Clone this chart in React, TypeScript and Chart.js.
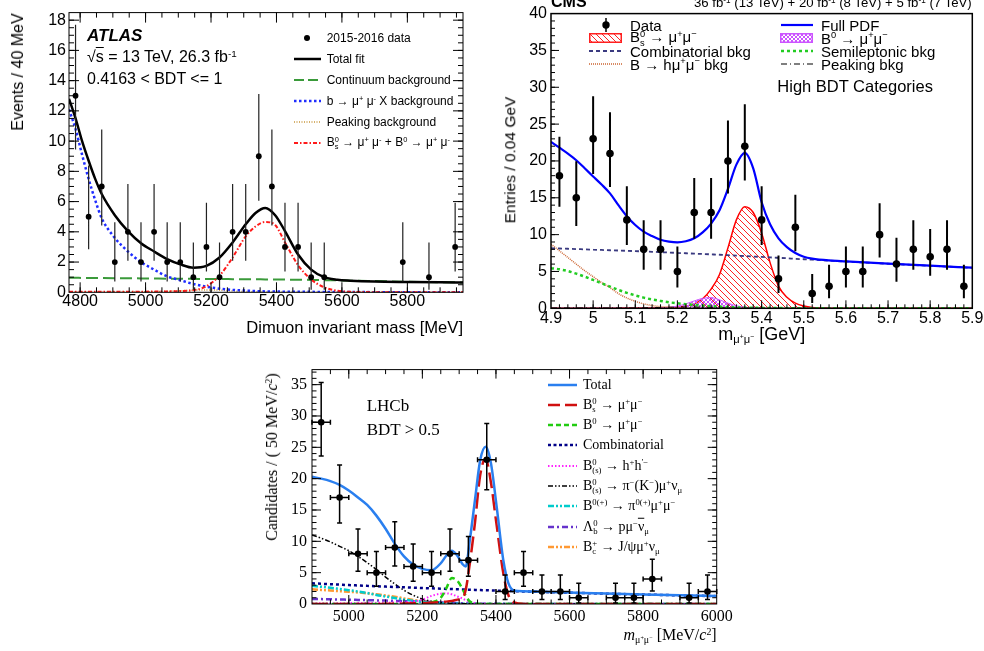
import React, { useEffect, useRef } from 'react';
import { Chart, registerables } from 'chart.js';

Chart.register(...registerables);

// ================= ATLAS panel data =================
const atlasBinX = [4786, 4826, 4866, 4906, 4946, 4986, 5026, 5066, 5106, 5146, 5186, 5226, 5266, 5306, 5346, 5386, 5426, 5466, 5506, 5546, 5786, 5866, 5946];
const atlasCounts = [13, 5, 7, 2, 4, 2, 4, 2, 2, 1, 3, 1, 4, 4, 9, 7, 3, 3, 1, 1, 2, 1, 3];
const atlasErrLo = [9.44, 2.84, 4.42, 0.71, 2.09, 0.71, 2.09, 0.71, 0.71, 0.17, 1.37, 0.17, 2.09, 2.09, 6.06, 4.42, 1.37, 1.37, 0.17, 0.17, 0.71, 0.17, 1.37];
const atlasErrHi = [17.7, 8.38, 10.77, 4.64, 7.16, 4.64, 7.16, 4.64, 4.64, 3.3, 5.92, 3.3, 7.16, 7.16, 13.11, 10.77, 5.92, 5.92, 3.3, 3.3, 4.64, 3.3, 5.92];
const atlasCurveX = [4766, 4786, 4806, 4826, 4846, 4866, 4906, 4946, 4986, 5026, 5066, 5106, 5146, 5186, 5226, 5266, 5306, 5336, 5366, 5396, 5426, 5466, 5506, 5546, 5586, 5626, 5700, 5800, 5900, 5970];
const atlasTotal = [12.8, 11.5, 10.0, 8.7, 7.5, 6.5, 5.1, 4.05, 3.25, 2.7, 2.2, 1.85, 1.63, 1.75, 2.3, 3.3, 4.5, 5.25, 5.58, 5.1, 4.05, 2.5, 1.5, 1.0, 0.83, 0.77, 0.71, 0.68, 0.66, 0.65];
const atlasBmumuX = [12.1, 10.8, 9.1, 7.5, 6.1, 4.9, 3.6, 2.7, 2.0, 1.5, 1.05, 0.8, 0.55, 0.37, 0.24, 0.16, 0.11, 0.08, 0.06, 0.05, 0.04, 0.03, 0.03, 0.02, 0.02, 0.02, 0.01, 0.01, 0.01, 0.01];
const atlasContinuum = [0.96, 0.96, 0.95, 0.95, 0.95, 0.94, 0.93, 0.93, 0.92, 0.91, 0.9, 0.9, 0.89, 0.88, 0.88, 0.87, 0.86, 0.86, 0.85, 0.85, 0.84, 0.83, 0.82, 0.8, 0.79, 0.77, 0.74, 0.7, 0.67, 0.65];
const atlasSignal = [0.03, 0.03, 0.03, 0.03, 0.03, 0.03, 0.03, 0.04, 0.04, 0.05, 0.06, 0.08, 0.14, 0.4, 1.1, 2.3, 3.7, 4.35, 4.65, 4.45, 3.3, 1.8, 0.85, 0.33, 0.1, 0.03, 0.01, 0, 0, 0];
const atlasPeaking = [0.01, 0.01, 0.01, 0.01, 0.01, 0.02, 0.02, 0.02, 0.03, 0.04, 0.07, 0.1, 0.14, 0.16, 0.14, 0.09, 0.05, 0.03, 0.02, 0.02, 0.01, 0.01, 0.01, 0.01, 0, 0, 0, 0, 0, 0];
const atlasXTicks = [4800, 5000, 5200, 5400, 5600, 5800];
const atlasYTicks = [0, 2, 4, 6, 8, 10, 12, 14, 16, 18];

// ================= CMS panel data =================
const cmsBinX = [4.92, 4.96, 5.0, 5.04, 5.08, 5.12, 5.16, 5.2, 5.24, 5.28, 5.32, 5.36, 5.4, 5.44, 5.48, 5.52, 5.56, 5.6, 5.64, 5.68, 5.72, 5.76, 5.8, 5.84, 5.88];
const cmsCounts = [18, 15, 23, 21, 12, 8, 8, 5, 13, 13, 20, 22, 12, 4, 11, 2, 3, 5, 5, 10, 6, 8, 7, 8, 3];
const cmsErrLo = [13.8, 11.17, 18.24, 16.46, 8.59, 5.23, 5.23, 2.84, 9.44, 9.44, 15.57, 17.35, 8.59, 2.09, 7.73, 0.71, 1.37, 2.84, 2.84, 6.89, 3.62, 5.23, 4.42, 5.23, 1.37];
const cmsErrHi = [23.29, 19.96, 28.79, 26.6, 16.56, 11.95, 11.95, 8.38, 17.7, 17.7, 25.5, 27.69, 16.56, 7.16, 15.42, 4.64, 5.92, 8.38, 8.38, 14.27, 9.58, 11.95, 10.77, 11.95, 5.92];
const cmsCurveX = [4.9, 4.92, 4.94, 4.96, 4.98, 5.0, 5.02, 5.04, 5.06, 5.08, 5.1, 5.12, 5.14, 5.16, 5.18, 5.2, 5.22, 5.24, 5.26, 5.28, 5.3, 5.32, 5.34, 5.36, 5.38, 5.4, 5.42, 5.44, 5.46, 5.48, 5.5, 5.52, 5.56, 5.6, 5.7, 5.8, 5.9];
const cmsFullPdf = [22.6, 21.8, 21.0, 20.1, 19.0, 17.9, 16.8, 15.6, 14.0, 12.5, 11.3, 10.4, 9.8, 9.3, 9.05, 8.95, 9.1, 9.5, 10.3, 11.5, 13.3, 16.2, 19.5, 21.1, 19.0, 14.4, 11.4, 9.5, 8.3, 7.5, 7.0, 6.75, 6.5, 6.37, 6.07, 5.78, 5.51];
const cmsCombinatorial = [8.15, 8.12, 8.08, 8.04, 8.0, 7.96, 7.92, 7.88, 7.84, 7.8, 7.76, 7.72, 7.67, 7.62, 7.57, 7.52, 7.47, 7.42, 7.37, 7.32, 7.27, 7.21, 7.15, 7.09, 7.03, 6.97, 6.91, 6.85, 6.79, 6.72, 6.66, 6.6, 6.47, 6.35, 6.05, 5.77, 5.5];
const cmsSemileptonic = [5.45, 5.3, 5.05, 4.7, 4.3, 3.85, 3.4, 2.95, 2.5, 2.1, 1.75, 1.45, 1.2, 1.0, 0.82, 0.68, 0.56, 0.46, 0.37, 0.29, 0.22, 0.16, 0.12, 0.09, 0.07, 0.05, 0.04, 0.03, 0.02, 0.02, 0.01, 0.01, 0, 0, 0, 0, 0];
const cmsHmumu = [8.7, 7.8, 6.9, 6.0, 5.1, 4.3, 3.5, 2.8, 2.0, 1.4, 0.95, 0.6, 0.38, 0.22, 0.12, 0.06, 0.03, 0.01, 0, 0, 0, 0, 0, 0, 0, 0, 0, 0, 0, 0, 0, 0, 0, 0, 0, 0, 0];
const cmsPeaking = [0.02, 0.02, 0.02, 0.02, 0.02, 0.02, 0.02, 0.02, 0.02, 0.02, 0.02, 0.04, 0.06, 0.09, 0.12, 0.15, 0.17, 0.17, 0.15, 0.12, 0.09, 0.06, 0.04, 0.03, 0.02, 0.02, 0.01, 0.01, 0.01, 0.01, 0.01, 0.01, 0.01, 0.01, 0.01, 0.01, 0.01];
const cmsBs = [0.01, 0.01, 0.01, 0.01, 0.01, 0.01, 0.02, 0.02, 0.02, 0.03, 0.03, 0.04, 0.05, 0.07, 0.1, 0.15, 0.3, 0.6, 1.3, 2.6, 4.6, 8.2, 12.0, 13.8, 13.0, 10.2, 6.2, 3.0, 1.5, 0.7, 0.3, 0.1, 0.02, 0, 0, 0, 0];
const cmsB0 = [0, 0, 0, 0, 0, 0, 0, 0, 0, 0, 0, 0, 0, 0.05, 0.12, 0.3, 0.6, 1.0, 1.35, 1.45, 1.15, 0.7, 0.35, 0.15, 0.06, 0.02, 0, 0, 0, 0, 0, 0, 0, 0, 0, 0, 0];
const cmsXTicks = [4.9, 5, 5.1, 5.2, 5.3, 5.4, 5.5, 5.6, 5.7, 5.8, 5.9];
const cmsYTicks = [0, 5, 10, 15, 20, 25, 30, 35, 40];

// ================= LHCb panel data =================
const lhcbBinX = [4925, 4975, 5025, 5075, 5125, 5175, 5225, 5275, 5325, 5375, 5425, 5475, 5525, 5575, 5625, 5725, 5775, 5825, 5925, 5975];
const lhcbCounts = [29, 17, 8, 5, 9, 6, 5, 8, 7, 23, 2, 5, 2, 2, 1, 1, 1, 4, 1, 2];
const lhcbErrLo = [23.62, 12.92, 5.23, 2.84, 6.06, 3.62, 2.84, 5.23, 4.42, 18.24, 0.71, 2.84, 0.71, 0.71, 0.17, 0.17, 0.17, 2.09, 0.17, 0.71];
const lhcbErrHi = [35.35, 22.18, 11.95, 8.38, 13.11, 9.58, 8.38, 11.95, 10.77, 28.79, 4.64, 8.38, 4.64, 4.64, 3.3, 3.3, 3.3, 7.16, 3.3, 4.64];
const lhcbCurveX = [4900, 4925, 4950, 4975, 5000, 5025, 5050, 5075, 5100, 5125, 5150, 5175, 5200, 5225, 5250, 5265, 5280, 5295, 5310, 5318, 5329, 5343, 5357, 5372, 5386, 5402, 5420, 5434, 5452, 5475, 5500, 5600, 5700, 5800, 5900, 6000];
const lhcbTotal = [20.3, 20.0, 19.6, 19.0, 18.1, 17.0, 15.8, 14.1, 12.0, 9.6, 7.6, 6.3, 5.6, 5.4, 6.5, 7.7, 8.5, 7.7, 6.3, 6.0, 10.2, 16.6, 22.9, 25.1, 22.6, 15.5, 7.0, 3.3, 2.1, 2.03, 1.98, 1.82, 1.66, 1.52, 1.39, 1.27];
const lhcbBs = [0, 0, 0, 0, 0, 0, 0, 0, 0.02, 0.04, 0.06, 0.1, 0.15, 0.2, 0.3, 0.38, 0.5, 0.7, 1.0, 2.3, 6.5, 13.0, 20.5, 23.2, 19.5, 12.5, 4.9, 1.4, 0.2, 0.02, 0, 0, 0, 0, 0, 0];
const lhcbB0 = [0, 0, 0, 0, 0, 0, 0, 0, 0, 0, 0, 0, 0.05, 0.25, 1.0, 2.5, 4.15, 3.7, 2.3, 1.3, 0.4, 0.08, 0.02, 0, 0, 0, 0, 0, 0, 0, 0, 0, 0, 0, 0, 0];
const lhcbCombinatorial = [3.3, 3.23, 3.16, 3.09, 3.02, 2.96, 2.9, 2.84, 2.78, 2.72, 2.66, 2.6, 2.55, 2.5, 2.44, 2.41, 2.38, 2.35, 2.32, 2.3, 2.28, 2.25, 2.22, 2.2, 2.17, 2.14, 2.1, 2.08, 2.04, 2.0, 1.96, 1.8, 1.65, 1.51, 1.38, 1.25];
const lhcbHH = [0.12, 0.12, 0.13, 0.13, 0.14, 0.15, 0.16, 0.18, 0.2, 0.24, 0.3, 0.4, 0.7, 1.3, 1.65, 1.7, 1.55, 1.2, 0.85, 0.6, 0.38, 0.17, 0.07, 0.03, 0.01, 0.01, 0, 0, 0, 0, 0, 0, 0, 0, 0, 0];
const lhcbPiMuNu = [11.0, 10.5, 9.9, 9.2, 8.5, 7.6, 6.6, 5.5, 4.3, 3.2, 2.2, 1.4, 0.8, 0.45, 0.25, 0.18, 0.12, 0.08, 0.05, 0.04, 0.03, 0.02, 0.02, 0.02, 0.01, 0.01, 0.01, 0.01, 0.01, 0.01, 0.01, 0, 0, 0, 0, 0];
const lhcbPiMuMu = [2.9, 2.75, 2.6, 2.4, 2.2, 2.0, 1.75, 1.45, 1.2, 0.95, 0.7, 0.5, 0.32, 0.18, 0.1, 0.06, 0.04, 0.03, 0.02, 0.02, 0.01, 0.01, 0, 0, 0, 0, 0, 0, 0, 0, 0, 0, 0, 0, 0, 0];
const lhcbLambdaB = [0.8, 0.78, 0.75, 0.72, 0.68, 0.65, 0.62, 0.58, 0.55, 0.5, 0.46, 0.42, 0.36, 0.3, 0.24, 0.2, 0.17, 0.14, 0.11, 0.1, 0.08, 0.06, 0.05, 0.04, 0.03, 0.03, 0.02, 0.02, 0.02, 0.01, 0.01, 0, 0, 0, 0, 0];
const lhcbBc = [2.35, 2.25, 2.15, 2.05, 1.95, 1.85, 1.7, 1.55, 1.35, 1.15, 0.9, 0.65, 0.45, 0.25, 0.1, 0.05, 0.02, 0.01, 0, 0, 0, 0, 0, 0, 0, 0, 0, 0, 0, 0, 0, 0, 0, 0, 0, 0];
const lhcbXTicks = [5000, 5200, 5400, 5600, 5800, 6000];
const lhcbYTicks = [0, 5, 10, 15, 20, 25, 30, 35];

const SANS = "'Liberation Sans', Arial, Helvetica, sans-serif";
const SERIF = "'Liberation Serif', 'Times New Roman', serif";

const pts = (xs: number[], ys: number[]) => xs.map((x, i) => ({ x, y: ys[i] }));

function curve(xs: number[], ys: number[], color: string, width: number, dash: number[] = [], extra: any = {}) {
  return {
    data: pts(xs, ys),
    showLine: true,
    borderColor: color,
    borderWidth: width,
    borderDash: dash,
    pointRadius: 0,
    fill: false,
    cubicInterpolationMode: 'monotone',
    ...extra,
  };
}

function points(xs: number[], ys: number[], r: number) {
  return {
    data: pts(xs, ys),
    showLine: false,
    pointRadius: r,
    pointBackgroundColor: '#000',
    pointBorderColor: '#000',
    pointBorderWidth: 0,
  };
}

function errPlugin(xs: number[], ys: number[], lo: number[], hi: number[], o: any) {
  return {
    id: 'errbars',
    beforeDatasetDraw(chart: any, args: any) {
      if (args.index !== 0) return;
      const { ctx, scales } = chart;
      const sx = scales.x;
      const sy = scales.y;
      ctx.save();
      ctx.strokeStyle = o.color;
      ctx.lineWidth = o.width;
      ctx.beginPath();
      xs.forEach((v: number, i: number) => {
        const px = sx.getPixelForValue(v);
        const y0 = sy.getPixelForValue(lo[i]);
        const y1 = sy.getPixelForValue(hi[i]);
        ctx.moveTo(px, y0);
        ctx.lineTo(px, y1);
        if (o.cap) {
          ctx.moveTo(px - o.cap, y0);
          ctx.lineTo(px + o.cap, y0);
          ctx.moveTo(px - o.cap, y1);
          ctx.lineTo(px + o.cap, y1);
        }
        if (o.halfW) {
          const xa = sx.getPixelForValue(v - o.halfW);
          const xb = sx.getPixelForValue(v + o.halfW);
          const py = sy.getPixelForValue(ys[i]);
          ctx.moveTo(xa, py);
          ctx.lineTo(xb, py);
          if (o.cap) {
            ctx.moveTo(xa, py - o.cap);
            ctx.lineTo(xa, py + o.cap);
            ctx.moveTo(xb, py - o.cap);
            ctx.lineTo(xb, py + o.cap);
          }
        }
      });
      ctx.stroke();
      ctx.restore();
    },
  };
}

function framePlugin(o: any) {
  return {
    id: 'frameTicks',
    afterDatasetsDraw(chart: any) {
      const { ctx, chartArea: a, scales } = chart;
      const sx = scales.x;
      const sy = scales.y;
      ctx.save();
      ctx.strokeStyle = '#000';
      ctx.lineWidth = o.frameWidth;
      ctx.strokeRect(a.left, a.top, a.right - a.left, a.bottom - a.top);
      ctx.lineWidth = 1;
      ctx.beginPath();
      const xt = (v: number, len: number) => {
        const p = sx.getPixelForValue(v);
        if (p < a.left + 0.5 || p > a.right - 0.5) return;
        if (o.bottom) { ctx.moveTo(p, a.bottom); ctx.lineTo(p, a.bottom - len); }
        if (o.top) { ctx.moveTo(p, a.top); ctx.lineTo(p, a.top + len); }
      };
      const yt = (v: number, len: number) => {
        const p = sy.getPixelForValue(v);
        if (p < a.top + 0.5 || p > a.bottom - 0.5) return;
        if (o.left) { ctx.moveTo(a.left, p); ctx.lineTo(a.left + len, p); }
        if (o.right) { ctx.moveTo(a.right, p); ctx.lineTo(a.right - len, p); }
      };
      o.xMajor.forEach((v: number) => xt(v, o.majLen));
      o.yMajor.forEach((v: number) => yt(v, o.majLen));
      for (let k = Math.ceil(sx.min / o.xMinor - 1e-6); k * o.xMinor <= sx.max + 1e-6; k++) xt(k * o.xMinor, o.minLen);
      for (let k = Math.ceil(sy.min / o.yMinor - 1e-6); k * o.yMinor <= sy.max + 1e-6; k++) yt(k * o.yMinor, o.minLen);
      ctx.stroke();
      ctx.restore();
    },
  };
}

function baseOptions(o: any) {
  const font = { family: o.family, size: o.size };
  return {
    responsive: false,
    maintainAspectRatio: false,
    animation: false,
    events: [],
    layout: { padding: o.padding },
    plugins: { legend: { display: false }, tooltip: { enabled: false } },
    scales: {
      x: {
        type: 'linear',
        position: 'bottom',
        min: o.xmin,
        max: o.xmax,
        grid: { display: false, drawTicks: false },
        border: { display: false },
        ticks: { font, color: '#000', padding: o.xPad, maxRotation: 0, minRotation: 0, autoSkip: false, callback: (v: any) => String(v) },
        afterBuildTicks: (s: any) => { s.ticks = o.xTicks.map((v: number) => ({ value: v })); },
        afterFit: (s: any) => { s.height = o.xAxisH; },
      },
      y: {
        type: 'linear',
        position: 'left',
        min: o.ymin,
        max: o.ymax,
        grid: { display: false, drawTicks: false },
        border: { display: false },
        ticks: { font, color: '#000', padding: o.yPad, autoSkip: false, callback: (v: any) => String(v) },
        afterBuildTicks: (s: any) => { s.ticks = o.yTicks.map((v: number) => ({ value: v })); },
        afterFit: (s: any) => { s.width = o.yAxisW; },
      },
    },
  };
}

function makeHatch(ctx: CanvasRenderingContext2D, color: string, s: number, lw: number, cross: boolean) {
  const c = document.createElement('canvas');
  c.width = s;
  c.height = s;
  const g = c.getContext('2d') as CanvasRenderingContext2D;
  g.strokeStyle = color;
  g.lineWidth = lw;
  g.beginPath();
  for (let k = -1; k <= 1; k++) {
    g.moveTo(k * s, 0);
    g.lineTo(k * s + s, s);
    if (cross) {
      g.moveTo(k * s, s);
      g.lineTo(k * s + s, 0);
    }
  }
  g.stroke();
  return ctx.createPattern(c, 'repeat');
}

// ================= HTML helpers =================
function Txt({ x, y, size, family = SANS, align = 'left', rotate = false, bold = false, italic = false, children }: any) {
  let transform = 'translateY(-50%)';
  if (align === 'right') transform = 'translate(-100%,-50%)';
  if (align === 'center') transform = 'translate(-50%,-50%)';
  if (rotate) transform = 'translate(-50%,-50%) rotate(-90deg)';
  return (
    <div style={{ position: 'absolute', left: x, top: y, transform, fontSize: size, fontFamily: family, fontWeight: bold ? 'bold' : 'normal', fontStyle: italic ? 'italic' : 'normal', whiteSpace: 'nowrap', lineHeight: 1, color: '#000' }}>
      {children}
    </div>
  );
}
const Sup = ({ children }: any) => <span style={{ fontSize: '0.62em', verticalAlign: '0.55em', lineHeight: 0 }}>{children}</span>;
const Sub = ({ children }: any) => <span style={{ fontSize: '0.62em', verticalAlign: '-0.3em', lineHeight: 0 }}>{children}</span>;
const SS = ({ sup, sub }: any) => (
  <span style={{ display: 'inline-flex', flexDirection: 'column', fontSize: '0.62em', lineHeight: 0.95, verticalAlign: '0.6em' }}>
    <span>{sup}</span>
    <span>{sub}</span>
  </span>
);
const Ov = ({ children }: any) => <span style={{ textDecoration: 'overline' }}>{children}</span>;

function LineSw({ x1, x2, y, color, width, dash }: any) {
  return (
    <svg style={{ position: 'absolute', left: x1, top: y - 6, overflow: 'visible' }} width={x2 - x1} height={12}>
      <line x1={0} y1={6} x2={x2 - x1} y2={6} stroke={color} strokeWidth={width} strokeDasharray={dash ? dash.join(' ') : undefined} />
    </svg>
  );
}

function HatchBox({ x1, x2, y1, y2, color, cross, id, s }: any) {
  const d = [-1, 0, 1].map((k) => `M${k * s},0 L${k * s + s},${s}` + (cross ? ` M${k * s},${s} L${k * s + s},0` : '')).join(' ');
  return (
    <svg style={{ position: 'absolute', left: x1, top: y1 }} width={x2 - x1} height={y2 - y1}>
      <defs>
        <pattern id={id} width={s} height={s} patternUnits="userSpaceOnUse">
          <path d={d} stroke={color} strokeWidth={1} fill="none" />
        </pattern>
      </defs>
      <rect x={0.75} y={0.75} width={x2 - x1 - 1.5} height={y2 - y1 - 1.5} fill={`url(#${id})`} stroke={color} strokeWidth={1.5} />
    </svg>
  );
}

export default function App() {
  const atlasRef = useRef<HTMLCanvasElement>(null);
  const cmsRef = useRef<HTMLCanvasElement>(null);
  const lhcbRef = useRef<HTMLCanvasElement>(null);

  useEffect(() => {
    const charts: any[] = [];

    // ---------- ATLAS ----------
    const ac = atlasRef.current as HTMLCanvasElement;
    charts.push(
      new Chart(ac, {
        type: 'scatter',
        data: {
          datasets: [
            points(atlasBinX, atlasCounts, 2.9),
            curve(atlasCurveX, atlasTotal, '#000000', 2.5),
            curve(atlasCurveX, atlasSignal, '#ff1a1a', 2, [4, 2, 1.5, 2]),
            curve(atlasCurveX, atlasBmumuX, '#1f2dff', 2.5, [2.5, 2.5]),
            curve(atlasCurveX, atlasContinuum, '#3a9a3a', 2, [12, 5]),
            curve(atlasCurveX, atlasPeaking, '#c8963c', 1.5, [1, 1.5]),
          ] as any,
        },
        options: baseOptions({
          family: SANS, size: 16, padding: { top: 10, right: 17, left: 0, bottom: 0 },
          xmin: 4766, xmax: 5970, ymin: 0, ymax: 18.5, xTicks: atlasXTicks, yTicks: atlasYTicks,
          xPad: 0, yPad: 3, xAxisH: 52.7, yAxisW: 69,
        }) as any,
        plugins: [
          errPlugin(atlasBinX, atlasCounts, atlasErrLo, atlasErrHi, { color: '#222', width: 1.2 }),
          framePlugin({ frameWidth: 1, xMajor: atlasXTicks, yMajor: atlasYTicks, xMinor: 50, yMinor: 0.5, majLen: 10, minLen: 5, left: true, right: true, top: true, bottom: true }),
        ] as any,
      })
    );

    // ---------- CMS ----------
    const cc = cmsRef.current as HTMLCanvasElement;
    const cctx = cc.getContext('2d') as CanvasRenderingContext2D;
    const redHatch = makeHatch(cctx, '#ff2020', 6, 1, false);
    const magHatch = makeHatch(cctx, '#cc55ff', 4, 1, true);
    charts.push(
      new Chart(cc, {
        type: 'scatter',
        data: {
          datasets: [
            points(cmsBinX, cmsCounts, 3.8),
            curve(cmsCurveX, cmsFullPdf, '#0000ff', 2.2),
            curve(cmsCurveX, cmsCombinatorial, '#3a3a80', 1.8, [4, 3]),
            curve(cmsCurveX, cmsSemileptonic, '#22cc22', 2.5, [3, 3]),
            curve(cmsCurveX, cmsHmumu, '#cc6633', 1.5, [1, 1]),
            curve(cmsCurveX, cmsPeaking, '#000000', 1.2, [6, 3, 1, 3]),
            curve(cmsCurveX, cmsB0, '#cc55ff', 1, [], { fill: 'origin', backgroundColor: magHatch }),
            curve(cmsCurveX, cmsBs, '#ff0000', 1.5, [], { fill: 'origin', backgroundColor: redHatch }),
          ] as any,
        },
        options: baseOptions({
          family: SANS, size: 16, padding: { top: 13.3, right: 27.7, left: 0, bottom: 0 },
          xmin: 4.9, xmax: 5.9, ymin: 0, ymax: 40, xTicks: cmsXTicks, yTicks: cmsYTicks,
          xPad: 1, yPad: 4, xAxisH: 36.7, yAxisW: 61,
        }) as any,
        plugins: [
          errPlugin(cmsBinX, cmsCounts, cmsErrLo, cmsErrHi, { color: '#000', width: 2 }),
          framePlugin({ frameWidth: 1.5, xMajor: cmsXTicks, yMajor: cmsYTicks, xMinor: 0.02, yMinor: 1, majLen: 8, minLen: 4, left: true, right: false, top: false, bottom: true }),
        ] as any,
      })
    );

    // ---------- LHCb ----------
    const lc = lhcbRef.current as HTMLCanvasElement;
    charts.push(
      new Chart(lc, {
        type: 'scatter',
        data: {
          datasets: [
            points(lhcbBinX, lhcbCounts, 3.3),
            curve(lhcbCurveX, lhcbTotal, '#2a7fef', 2.5),
            curve(lhcbCurveX, lhcbBs, '#d01010', 2.5, [16, 6]),
            curve(lhcbCurveX, lhcbB0, '#22cc11', 2.5, [6, 4]),
            curve(lhcbCurveX, lhcbCombinatorial, '#000088', 2.5, [3, 3]),
            curve(lhcbCurveX, lhcbHH, '#ff22ff', 2, [1.5, 2]),
            curve(lhcbCurveX, lhcbPiMuNu, '#000000', 1.5, [5, 2, 1.5, 2, 1.5, 2]),
            curve(lhcbCurveX, lhcbPiMuMu, '#00cccc', 2.5, [6, 2, 2, 2, 2, 2]),
            curve(lhcbCurveX, lhcbLambdaB, '#6633cc', 2.5, [6, 3, 2, 3]),
            curve(lhcbCurveX, lhcbBc, '#ff9933', 2.5, [6, 2, 2, 2, 2, 2]),
          ] as any,
        },
        options: baseOptions({
          family: SERIF, size: 16, padding: { top: 14.3, right: 33.3, left: 0, bottom: 0 },
          xmin: 4900, xmax: 6000, ymin: 0, ymax: 37.4, xTicks: lhcbXTicks, yTicks: lhcbYTicks,
          xPad: 3, yPad: 5, xAxisH: 47, yAxisW: 62,
        }) as any,
        plugins: [
          errPlugin(lhcbBinX, lhcbCounts, lhcbErrLo, lhcbErrHi, { color: '#000', width: 1.5, halfW: 25, cap: 2.5 }),
          framePlugin({ frameWidth: 1, xMajor: lhcbXTicks, yMajor: lhcbYTicks, xMinor: 50, yMinor: 1, majLen: 9, minLen: 4.5, left: true, right: true, top: true, bottom: true }),
        ] as any,
      })
    );

    return () => charts.forEach((c) => c.destroy());
  }, []);

  const atlasRows = [37.7, 59, 80, 101, 122, 142.7];
  const cmsRows = [25, 38.3, 51, 64];
  const lhcbRows = [0, 1, 2, 3, 4, 5, 6, 7, 8].map((i) => 384.5 + i * 20.3);

  return (
    <div style={{ position: 'fixed', left: 0, top: 0, width: 984, height: 651, overflow: 'hidden', background: '#fff' }}>
      <canvas ref={atlasRef} width={480} height={345} style={{ position: 'absolute', left: 0, top: 0 }} />
      <canvas ref={cmsRef} width={510} height={345} style={{ position: 'absolute', left: 490, top: 0 }} />
      <canvas ref={lhcbRef} width={500} height={296} style={{ position: 'absolute', left: 250, top: 355 }} />

      {/* ATLAS annotations */}
      <Txt x={87} y={35} size={17} bold italic>ATLAS</Txt>
      <Txt x={87} y={57} size={16}>√<Ov>s</Ov> = 13 TeV, 26.3 fb<Sup>-1</Sup></Txt>
      <Txt x={87} y={79} size={16}>0.4163 &lt; BDT &lt;= 1</Txt>
      <svg style={{ position: 'absolute', left: 303, top: atlasRows[0] - 4 }} width={8} height={8}><circle cx={4} cy={4} r={3} fill="#000" /></svg>
      <LineSw x1={294} x2={321} y={atlasRows[1]} color="#000" width={2.5} />
      <LineSw x1={294} x2={321} y={atlasRows[2]} color="#3a9a3a" width={2} dash={[10, 4]} />
      <LineSw x1={294} x2={321} y={atlasRows[3]} color="#1f2dff" width={2.5} dash={[2.5, 2.5]} />
      <LineSw x1={294} x2={321} y={atlasRows[4]} color="#c8963c" width={1.5} dash={[1, 1.5]} />
      <LineSw x1={294} x2={321} y={atlasRows[5]} color="#ff1a1a" width={2} dash={[4, 2, 1.5, 2]} />
      <Txt x={326.7} y={atlasRows[0]} size={12}>2015-2016 data</Txt>
      <Txt x={326.7} y={atlasRows[1]} size={12}>Total fit</Txt>
      <Txt x={326.7} y={atlasRows[2]} size={12}>Continuum background</Txt>
      <Txt x={326.7} y={atlasRows[3]} size={12}>b → μ<Sup>+</Sup> μ<Sup>-</Sup> X background</Txt>
      <Txt x={326.7} y={atlasRows[4]} size={12}>Peaking background</Txt>
      <Txt x={326.7} y={atlasRows[5]} size={12}>B<SS sup="0" sub="s" /> → μ<Sup>+</Sup> μ<Sup>-</Sup> + B<Sup>0</Sup> → μ<Sup>+</Sup> μ<Sup>-</Sup></Txt>
      <Txt x={463} y={328} size={16.6} align="right">Dimuon invariant mass [MeV]</Txt>
      <Txt x={17.5} y={71.7} size={16} rotate>Events / 40 MeV</Txt>

      {/* CMS annotations */}
      <Txt x={551} y={2} size={16} bold>CMS</Txt>
      <Txt x={971.7} y={2.8} size={13.2} align="right">36 fb<Sup>-1</Sup> (13 TeV) + 20 fb<Sup>-1</Sup> (8 TeV) + 5 fb<Sup>-1</Sup> (7 TeV)</Txt>
      <svg style={{ position: 'absolute', left: 600, top: cmsRows[0] - 7 }} width={12} height={14}>
        <line x1={6} y1={0} x2={6} y2={14} stroke="#000" strokeWidth={1.5} />
        <circle cx={6} cy={7} r={3.7} fill="#000" />
      </svg>
      <HatchBox x1={589} x2={622} y1={33.3} y2={43.3} color="#ff2020" id="hatchBs" s={6} />
      <LineSw x1={589} x2={622} y={cmsRows[2]} color="#3a3a80" width={1.8} dash={[4, 3]} />
      <LineSw x1={589} x2={622} y={cmsRows[3]} color="#cc6633" width={1.5} dash={[1, 1]} />
      <Txt x={630} y={cmsRows[0]} size={15}>Data</Txt>
      <Txt x={630} y={cmsRows[1]} size={15}>B<SS sup="0" sub="s" /> → μ<Sup>+</Sup>μ<Sup>−</Sup></Txt>
      <Txt x={630} y={cmsRows[2]} size={15}>Combinatorial bkg</Txt>
      <Txt x={630} y={cmsRows[3]} size={15}>B → hμ<Sup>+</Sup>μ<Sup>−</Sup> bkg</Txt>
      <LineSw x1={781} x2={813} y={cmsRows[0]} color="#0000ff" width={2.2} />
      <HatchBox x1={780.3} x2={813.3} y1={33.3} y2={43.3} color="#cc55ff" id="hatchB0" s={4} cross />
      <LineSw x1={781} x2={813} y={cmsRows[2]} color="#22cc22" width={2.5} dash={[3, 3]} />
      <LineSw x1={781} x2={813} y={cmsRows[3]} color="#000" width={1.2} dash={[6, 3, 1, 3]} />
      <Txt x={821} y={cmsRows[0]} size={15}>Full PDF</Txt>
      <Txt x={821} y={cmsRows[1]} size={15}>B<Sup>0</Sup> → μ<Sup>+</Sup>μ<Sup>−</Sup></Txt>
      <Txt x={821} y={cmsRows[2]} size={15}>Semileptonic bkg</Txt>
      <Txt x={821} y={cmsRows[3]} size={15}>Peaking bkg</Txt>
      <Txt x={777.3} y={85.7} size={16.5}>High BDT Categories</Txt>
      <Txt x={761.7} y={334} size={18} align="center">m<Sub>μ<Sup>+</Sup>μ<Sup>−</Sup></Sub> [GeV]</Txt>
      <Txt x={510} y={160} size={15.5} rotate>Entries / 0.04 GeV</Txt>

      {/* LHCb annotations */}
      <Txt x={366.7} y={405} size={17} family={SERIF}>LHCb</Txt>
      <Txt x={366.7} y={429} size={17} family={SERIF}>BDT &gt; 0.5</Txt>
      <LineSw x1={548} x2={577} y={lhcbRows[0]} color="#2a7fef" width={2.5} />
      <LineSw x1={548} x2={577} y={lhcbRows[1]} color="#d01010" width={2.5} dash={[12, 5]} />
      <LineSw x1={548} x2={577} y={lhcbRows[2]} color="#22cc11" width={2.5} dash={[5, 3]} />
      <LineSw x1={548} x2={577} y={lhcbRows[3]} color="#000088" width={2.5} dash={[3, 2.5]} />
      <LineSw x1={548} x2={577} y={lhcbRows[4]} color="#ff22ff" width={2} dash={[1.5, 2]} />
      <LineSw x1={548} x2={577} y={lhcbRows[5]} color="#000" width={1.5} dash={[5, 2, 1.5, 2, 1.5, 2]} />
      <LineSw x1={548} x2={577} y={lhcbRows[6]} color="#00cccc" width={2.5} dash={[6, 2, 2, 2, 2, 2]} />
      <LineSw x1={548} x2={577} y={lhcbRows[7]} color="#6633cc" width={2.5} dash={[6, 3, 2, 3]} />
      <LineSw x1={548} x2={577} y={lhcbRows[8]} color="#ff9933" width={2.5} dash={[6, 2, 2, 2, 2, 2]} />
      <Txt x={583} y={lhcbRows[0]} size={14} family={SERIF}>Total</Txt>
      <Txt x={583} y={lhcbRows[1]} size={14} family={SERIF}>B<SS sup="0" sub="s" /> → μ<Sup>+</Sup>μ<Sup>−</Sup></Txt>
      <Txt x={583} y={lhcbRows[2]} size={14} family={SERIF}>B<Sup>0</Sup> → μ<Sup>+</Sup>μ<Sup>−</Sup></Txt>
      <Txt x={583} y={lhcbRows[3]} size={14} family={SERIF}>Combinatorial</Txt>
      <Txt x={583} y={lhcbRows[4]} size={14} family={SERIF}>B<SS sup="0" sub="(s)" /> → h<Sup>+</Sup>h<Sup>′−</Sup></Txt>
      <Txt x={583} y={lhcbRows[5]} size={14} family={SERIF}>B<SS sup="0" sub="(s)" /> → π<Sup>−</Sup>(K<Sup>−</Sup>)μ<Sup>+</Sup>ν<Sub>μ</Sub></Txt>
      <Txt x={583} y={lhcbRows[6]} size={14} family={SERIF}>B<Sup>0(+)</Sup> → π<Sup>0(+)</Sup>μ<Sup>+</Sup>μ<Sup>−</Sup></Txt>
      <Txt x={583} y={lhcbRows[7]} size={14} family={SERIF}>Λ<SS sup="0" sub="b" /> → pμ<Sup>−</Sup><Ov>ν</Ov><Sub>μ</Sub></Txt>
      <Txt x={583} y={lhcbRows[8]} size={14} family={SERIF}>B<SS sup="+" sub="c" /> → J/ψμ<Sup>+</Sup>ν<Sub>μ</Sub></Txt>
      <Txt x={716.7} y={635} size={16} family={SERIF} align="right"><i>m</i><Sub>μ<Sup>+</Sup>μ<Sup>−</Sup></Sub> [MeV/<i>c</i><Sup>2</Sup>]</Txt>
      <Txt x={271.7} y={456.7} size={16} family={SERIF} rotate>Candidates / ( 50 MeV/<i>c</i><Sup>2</Sup>)</Txt>
    </div>
  );
}
